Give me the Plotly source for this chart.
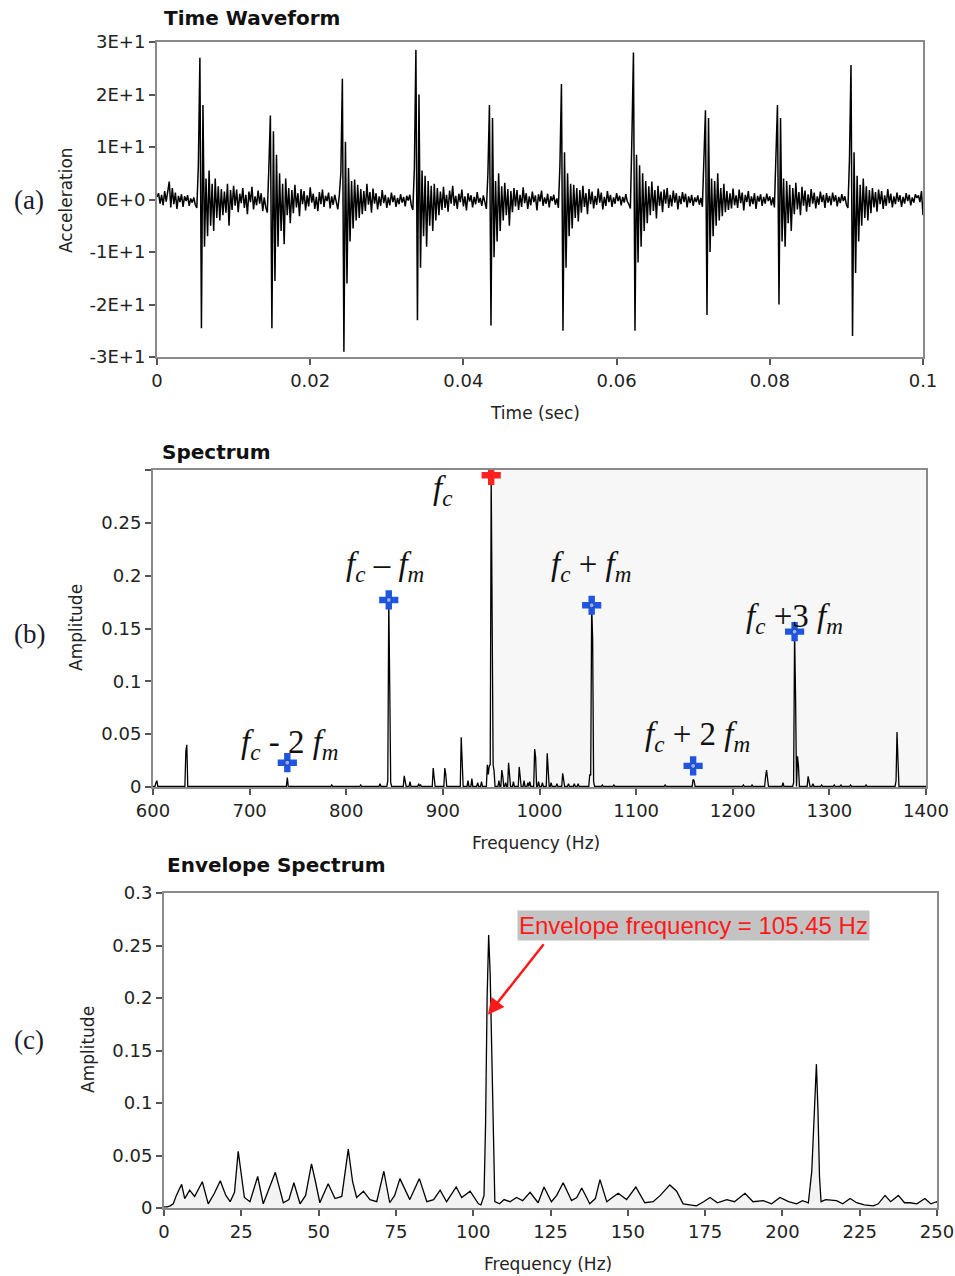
import numpy as np
import plotly.graph_objects as go

# ---------------- data ----------------
# (a) time waveform, sampled every 0.2 ms (0 .. 0.1 s)
dt = 0.0002
wave_lead = [0.5, 1.2, -0.8, 0.9, -1.1, 1.6, -0.4, 2.1, 3.4, -1.5,
             2.2, -0.9, 1.3, -1.8, 0.7, -0.5, 1.0, -1.4, 0.6, -0.3,
             0.8, -1.2, 0.2, -0.6, 0.4, -1.0, -1.6]
wave_1 = [6.5, 27, -24.5, 18, -9, 4, -7, 5.5, -5, 3,
          -6, 4, -3.5, 2.5, -4, 2, -3, 1.5, -2.5, 3,
          -5, 1.8, -2, 2.6, -1.2, 1.9, -2.4, 1.1, -0.7, 2.2,
          -1.6, 0.9, -2.8, 1.5, -0.5, 2.4, -1.9, 0.6, -1.1, 1.7,
          -0.8, 1.2, -2.2, 0.4, -1.5, -2.5]
wave_2 = [6, 16, -24.5, 13, -15.5, 8.5, -9, 5, -6, 3,
          -8.5, 4, -3, 2.2, -4.5, 1.8, -2.6, 2.8, -1.5, 1.2,
          -3.2, 2, -0.9, 1.6, -2.1, 0.8, -1.3, 2.3, -0.6, 1.1,
          -1.8, 0.5, -2.2, 1.4, -0.9, 1.9, -1.4, 0.7, -0.3, 1.3,
          -1.7, 0.6, -1.0, 0.9, -0.4, -1.9, 0.8]
wave_3 = [5, 23, -29, 11, -16, 6, -8, 3.5, -5.5, 3.8,
          -4, 2.8, -3.5, 2, -2.8, 1.6, -2.2, 3, -1, 1.4,
          -2.5, 2.1, -0.8, 1.2, -1.9, 0.6, -1.2, 1.8, -0.7, 0.9,
          -1.6, 0.4, -1.1, 1.3, -0.5, 0.8, -1.4, 0.3, -0.9, 1.0,
          -0.6, 0.5, -1.3, 0.7, -0.2, 0.9, -1.1, -2.0]
wave_4 = [6, 28.5, -23, 20, -13, 5.5, -7, 4.5, -9, 3.5,
          -5, 2.6, -6, 3, -4, 2.2, -3, 1.5, -2, 2.4,
          -1.6, 0.9, -2.3, 1.7, -0.8, 2.6, -1.2, 0.7, -1.8, 1.1,
          -0.5, 1.9, -1.3, 0.6, -2.1, 1.2, -0.4, 0.8, -1.5, 0.5,
          -0.9, 1.4, -0.6, 0.3, -1.2, 0.8, -0.4, -1.8]
wave_5 = [5, 18, -24, 15.5, -11, 3.5, -8, 5, -6, 2.5,
          -4, 3.2, -3, 2, -5, 1.6, -2.4, 2.2, -1.3, 1.8,
          -2.0, 0.9, -1.4, 2.3, -0.7, 1.2, -1.8, 0.6, -1.1, 1.5,
          -0.5, 0.8, -2.1, 1.0, -0.4, 1.7, -1.2, 0.4, -0.8, 1.1,
          -1.5, 0.6, -0.3, 0.9, -1.0, 0.2, -1.6]
wave_6 = [6.5, 22, -25, 9, -13, 5, -7, 3, -5.5, 2.8,
          -3.5, 2.2, -4.2, 1.8, -2.5, 2.6, -1.4, 1.2, -2.8, 2.0,
          -0.9, 1.5, -1.7, 0.7, -1.0, 2.1, -0.6, 1.3, -1.9, 0.5,
          -1.2, 1.6, -0.5, 0.9, -1.4, 0.4, -0.8, 1.2, -0.3, 0.7,
          -1.1, 0.5, -0.6, 1.0, -0.4, -0.9, -1.7]
wave_7 = [12, 28, -25, 8.5, -12, 6.5, -9, 5, -6, 3.5,
          -4.5, 2.5, -3, 3.4, -2.2, 1.8, -3.6, 2.6, -1.2, 1.5,
          -2.4, 1.9, -0.8, 2.2, -1.6, 0.9, -1.3, 1.7, -0.6, 1.2,
          -1.9, 0.7, -0.9, 1.4, -0.5, 1.1, -1.5, 0.6, -0.7, 0.9,
          -1.2, 0.4, -0.5, 0.8, -1.0, 0.3, -1.4]
wave_8 = [6, 17, -22, 15.5, -10, 4, -7, 3.5, -5, 5,
          -4, 2.2, -3.2, 3, -2.4, 1.6, -2, 1.2, -1.7, 2.1,
          -1.1, 0.8, -1.6, 1.9, -0.7, 1.3, -2.1, 0.9, -0.5, 1.6,
          -1.3, 0.6, -0.9, 1.2, -1.8, 0.7, -0.4, 1.0, -1.2, 0.5,
          -0.8, 1.1, -0.3, 0.6, -1.1, 0.4, -1.5]
wave_9 = [7, 18, -20, 15.5, -8, 4, -9, 3.5, -4.5, 2.8,
          -6, 2.2, -2.8, 3.2, -1.9, 1.4, -3, 2.4, -1.2, 1.7,
          -2.3, 1.0, -1.4, 2.0, -0.8, 1.3, -1.7, 0.6, -1.0, 1.5,
          -0.5, 0.9, -1.6, 1.2, -0.6, 0.7, -1.1, 1.3, -0.4, 0.8,
          -1.3, 0.5, -0.7, 1.0, -0.3, 0.6, -1.0, -1.6]
wave_10 = [7.5, 25.6, -26, 9, -14, 4.5, -8, 2.8, -5, 4,
           -3.5, 2.5, -4, 1.8, -2.6, 2.2, -1.5, 1.4, -2.3, 1.9,
           -0.9, 1.6, -1.8, 0.8, -1.2, 2.0, -0.7, 1.1, -1.5, 0.6,
           -0.9, 1.3, -0.4, 0.8, -1.4, 0.5, -0.8, 1.2, -0.3, 0.9,
           -1.1, 0.4, -0.6, 1.0, 0.3, 0.8, -0.5, 1.6, -3.0]
wave_segments = [wave_lead, wave_1, wave_2, wave_3, wave_4, wave_5,
                 wave_6, wave_7, wave_8, wave_9, wave_10]

accel_ticks = [-30, -20, -10, 0, 10, 20, 30]
accel_ticktext = ["-3E+1", "-2E+1", "-1E+1", "0E+0", "1E+1", "2E+1", "3E+1"]
time_ticks = [0, 0.02, 0.04, 0.06, 0.08, 0.1]
time_ticktext = ["0", "0.02", "0.04", "0.06", "0.08", "0.1"]

# (b) spectrum: 1 Hz bins from 600 to 1400 Hz; listed bins, all others ~0
spec_floor = 0.0005
spec_lines = [(603, 0.004), (604, 0.006), (634, 0.034), (635, 0.040),
              (739, 0.009), (785, 0.002), (815, 0.002), (835, 0.003),
              (843, 0.006), (844, 0.177), (845, 0.096), (846, 0.004),
              (860, 0.0105), (861, 0.005), (866, 0.005), (875, 0.003), (877, 0.002),
              (890, 0.018), (891, 0.010), (902, 0.018), (903, 0.012),
              (919, 0.047), (920, 0.025), (926, 0.006), (930, 0.008),
              (936, 0.004), (940, 0.005), (946, 0.021), (947, 0.012), (948, 0.020),
              (949, 0.021), (950, 0.295), (951, 0.148), (952, 0.021), (953, 0.015),
              (958, 0.006), (961, 0.016), (962, 0.010), (965, 0.004),
              (968, 0.023), (969, 0.010), (973, 0.005), (979, 0.019), (980, 0.010),
              (984, 0.006), (988, 0.004), (990, 0.005), (995, 0.036), (996, 0.028),
              (999, 0.005), (1003, 0.004), (1008, 0.032), (1009, 0.018), (1012, 0.004),
              (1018, 0.003), (1024, 0.013), (1025, 0.008), (1030, 0.003),
              (1036, 0.003), (1040, 0.003), (1052, 0.012), (1053, 0.011),
              (1054, 0.172), (1055, 0.140), (1056, 0.005), (1065, 0.002),
              (1077, 0.002), (1093, 0.001), (1130, 0.002), (1159, 0.0073), (1160, 0.006),
              (1211, 0.002), (1220, 0.002), (1234, 0.010), (1235, 0.016), (1236, 0.008),
              (1252, 0.004), (1263, 0.004), (1264, 0.147), (1265, 0.0856),
              (1267, 0.029), (1268, 0.020), (1278, 0.010), (1279, 0.006), (1283, 0.003),
              (1292, 0.002), (1305, 0.002), (1312, 0.002), (1322, 0.002), (1338, 0.002),
              (1369, 0.006), (1370, 0.052), (1371, 0.025)]
sideband_freq = [739, 844, 1054, 1159, 1264]
sideband_amp = [0.023, 0.177, 0.172, 0.020, 0.147]
carrier_freq = [950]
carrier_amp = [0.295]

# (c) envelope spectrum
env_points = [(0, 0.001), (1, 0.001), (2, 0.002), (3, 0.004), (4, 0.012), (5.7, 0.0226),
              (6.7, 0.009), (8.3, 0.017), (9.9, 0.011), (12.4, 0.025), (14.3, 0.004),
              (16.3, 0.014), (18.2, 0.026), (20, 0.012), (21.4, 0.006), (22.8, 0.015),
              (24, 0.054), (25, 0.030), (26, 0.010), (27.8, 0.006), (30.3, 0.030),
              (32.1, 0.004), (33.8, 0.018), (36, 0.034), (38.6, 0.005), (40.4, 0.008),
              (42, 0.024), (44, 0.004), (45.8, 0.012), (47.7, 0.042), (49, 0.025),
              (50.4, 0.005), (53.1, 0.023), (55.3, 0.009), (57.5, 0.011), (59.6, 0.056),
              (61, 0.025), (62.3, 0.010), (64.5, 0.016), (66.6, 0.008), (68.8, 0.006),
              (71.1, 0.035), (73, 0.005), (74.6, 0.012), (76.3, 0.028), (79.5, 0.008),
              (82.6, 0.028), (85, 0.006), (87.2, 0.008), (89.3, 0.017), (91.4, 0.006),
              (94.5, 0.020), (96.3, 0.010), (99, 0.016), (101.7, 0.004), (102.5, 0.003),
              (103.5, 0.012), (104, 0.080), (104.5, 0.200), (105, 0.260), (105.5, 0.222),
              (106, 0.155), (106.5, 0.062), (107, 0.006), (108.5, 0.004), (110, 0.008),
              (111.9, 0.006), (114, 0.010), (116, 0.007), (118.4, 0.015), (121, 0.005),
              (122.9, 0.020), (125.3, 0.006), (127, 0.012), (129.1, 0.024), (131.8, 0.007),
              (133.5, 0.010), (135.1, 0.019), (137.7, 0.004), (139.5, 0.009), (141, 0.027),
              (143.2, 0.006), (145, 0.010), (146.9, 0.014), (149.6, 0.008), (152.6, 0.020),
              (155.5, 0.005), (158.2, 0.006), (160.5, 0.012), (163.6, 0.022), (165.8, 0.016),
              (167.9, 0.004), (170, 0.003), (172.2, 0.002), (174.5, 0.006), (176.6, 0.010),
              (179, 0.005), (182, 0.008), (184.5, 0.006), (187.9, 0.014), (190.5, 0.006),
              (193.8, 0.007), (196.5, 0.004), (199.2, 0.010), (202, 0.006), (204.6, 0.004),
              (206.5, 0.007), (208.4, 0.005), (209.5, 0.035), (210, 0.070), (210.5, 0.112),
              (211, 0.137), (211.5, 0.093), (212, 0.030), (212.5, 0.006), (214, 0.008),
              (217.5, 0.007), (219.5, 0.004), (221.9, 0.009), (224, 0.005), (226.5, 0.003),
              (229.4, 0.002), (231, 0.004), (233.2, 0.012), (235, 0.006), (237.5, 0.012),
              (239.5, 0.005), (241.3, 0.005), (243.5, 0.004), (246.1, 0.009), (248, 0.004),
              (249.9, 0.006), (250, 0.005)]
envelope_peak_freq = 105.45

# ---------------- build series ----------------
wave = np.concatenate([np.array(s, dtype=float) for s in wave_segments])
t = np.arange(len(wave)) * dt

spec_f = np.arange(600, 1401, 1)
spec_a = np.full(spec_f.shape, spec_floor)
for f, a in spec_lines:
    spec_a[f - 600] = a

env_f = [p[0] for p in env_points]
env_a = [p[1] for p in env_points]

# ---------------- figure ----------------
W, H = 955, 1276
def px(x):
    return x / W
def py(y):
    return 1 - y / H

TICKFONT = dict(family="DejaVu Sans", size=18, color="#222222")
FRAME = "#8a8a8a"

fig = go.Figure()
fig.add_trace(go.Scatter(x=t, y=wave, mode="lines", line=dict(color="black", width=1.5),
                         xaxis="x", yaxis="y", showlegend=False))
fig.add_trace(go.Scatter(x=spec_f, y=spec_a, mode="lines", line=dict(color="black", width=1.3),
                         xaxis="x2", yaxis="y2", showlegend=False))
fig.add_trace(go.Scatter(x=sideband_freq, y=sideband_amp, mode="markers",
                         marker=dict(symbol="cross", size=16, color="#1f55e0",
                                     line=dict(width=0)),
                         xaxis="x2", yaxis="y2", showlegend=False))
fig.add_trace(go.Scatter(x=sideband_freq, y=sideband_amp, mode="markers",
                         marker=dict(symbol="circle", size=5, color="#8fb0ff",
                                     line=dict(width=1, color="#1f3f99")),
                         xaxis="x2", yaxis="y2", showlegend=False))
fig.add_trace(go.Scatter(x=carrier_freq, y=carrier_amp, mode="markers",
                         marker=dict(symbol="cross", size=16, color="#ff2020",
                                     line=dict(width=0)),
                         xaxis="x2", yaxis="y2", showlegend=False))
fig.add_trace(go.Scatter(x=env_f, y=env_a, mode="lines", line=dict(color="black", width=1.3),
                         fill="tozeroy", fillcolor="#f3f3f3",
                         xaxis="x3", yaxis="y3", showlegend=False))

axis_common = dict(showline=True, linecolor=FRAME, linewidth=2, mirror=True,
                   ticks="outside", ticklen=6, tickwidth=1.5, tickcolor="#555555",
                   showgrid=False, zeroline=False, tickfont=TICKFONT, fixedrange=True,
                   automargin=False)

fig.update_layout(
    template="none",
    width=W, height=H, margin=dict(l=0, r=0, t=0, b=0, pad=0, autoexpand=False),
    paper_bgcolor="white", plot_bgcolor="white",
    xaxis=dict(domain=[px(157), px(923)], range=[0, 0.1], anchor="y",
               tickvals=time_ticks, ticktext=time_ticktext, **axis_common),
    yaxis=dict(domain=[py(357), py(42)], range=[-30, 30], anchor="x",
               tickvals=accel_ticks, ticktext=accel_ticktext, **axis_common),
    xaxis2=dict(domain=[px(153), px(926)], range=[600, 1400], anchor="y2",
                tickvals=[600, 700, 800, 900, 1000, 1100, 1200, 1300, 1400], **axis_common),
    yaxis2=dict(domain=[py(787), py(470)], range=[0, 0.3], anchor="x2",
                tickvals=[0, 0.05, 0.1, 0.15, 0.2, 0.25, 0.3],
                ticktext=["0", "0.05", "0.1", "0.15", "0.2", "0.25", ""], **axis_common),
    xaxis3=dict(domain=[px(164), px(937)], range=[0, 250], anchor="y3",
                tickvals=[0, 25, 50, 75, 100, 125, 150, 175, 200, 225, 250], **axis_common),
    yaxis3=dict(domain=[py(1208), py(893)], range=[0, 0.3], anchor="x3",
                tickvals=[0, 0.05, 0.1, 0.15, 0.2, 0.25, 0.3],
                ticktext=["0", "0.05", "0.1", "0.15", "0.2", "0.25", "0.3"], **axis_common),
)

# light shading on right half of spectrum
fig.add_shape(type="rect", xref="x2", yref="y2", x0=950, x1=1400, y0=0, y1=0.3,
              fillcolor="#f7f7f7", line=dict(width=0), layer="below")

ann = []
LABF = dict(family="DejaVu Sans", size=17, color="#222222")
TITF = dict(family="DejaVu Sans", size=20, color="#111111")
SERIF = dict(family="Liberation Serif", size=27, color="#1b1b2f")

def paper_text(text, x, y, font, xanchor="center", yanchor="middle", angle=0):
    ann.append(dict(text=text, x=px(x), y=py(y), xref="paper", yref="paper",
                    showarrow=False, font=font, xanchor=xanchor, yanchor=yanchor,
                    textangle=angle))

paper_text("<b>Time Waveform</b>", 162, 18, TITF, xanchor="left")
paper_text("<b>Spectrum</b>", 160, 452, TITF, xanchor="left")
paper_text("<b>Envelope Spectrum</b>", 165, 865, TITF, xanchor="left")
paper_text("Time (sec)", 535, 413, LABF)
paper_text("Frequency (Hz)", 536, 843, LABF)
paper_text("Frequency (Hz)", 548, 1264, LABF)
paper_text("Acceleration", 66, 200, LABF, angle=-90)
paper_text("Amplitude", 76, 628, LABF, angle=-90)
paper_text("Amplitude", 88, 1050, LABF, angle=-90)
paper_text("(a)", 29, 200, SERIF)
paper_text("(b)", 29, 634, SERIF)
paper_text("(c)", 29, 1040, SERIF)

MATH = dict(family="Liberation Serif", size=33, color="#111111")
def math_label(text, f, a):
    ann.append(dict(text=text, x=f, y=a, xref="x2", yref="y2", showarrow=False,
                    font=MATH, xanchor="center", yanchor="middle"))

math_label("<i>f<sub>c</sub></i>", 900, 0.281)
math_label("<i>f<sub>c</sub></i> \u2013 <i>f<sub>m</sub></i>", 840, 0.209)
math_label("<i>f<sub>c</sub></i> + <i>f<sub>m</sub></i>", 1053, 0.209)
math_label("<i>f<sub>c</sub></i> +3 <i>f<sub>m</sub></i>", 1264, 0.159)
math_label("<i>f<sub>c</sub></i> + 2 <i>f<sub>m</sub></i>", 1163, 0.048)
math_label("<i>f<sub>c</sub></i> - 2 <i>f<sub>m</sub></i>", 742, 0.040)

# envelope annotation
ann.append(dict(text="Envelope frequency = 105.45 Hz", x=171.4, y=0.2695, xref="x3", yref="y3",
                showarrow=False, font=dict(family="Liberation Sans", size=24, color="#ff1a1a"),
                bgcolor="#c3c3c3", borderpad=1, xanchor="center", yanchor="middle"))
ann.append(dict(text="", x=envelope_peak_freq - 0.7, y=0.184, xref="x3", yref="y3",
                showarrow=True, ax=57, ay=-72, arrowhead=2, arrowsize=1.3, arrowwidth=2.5,
                arrowcolor="#ff1a1a"))

fig.update_layout(annotations=ann)
fig.write_html("out.html")
